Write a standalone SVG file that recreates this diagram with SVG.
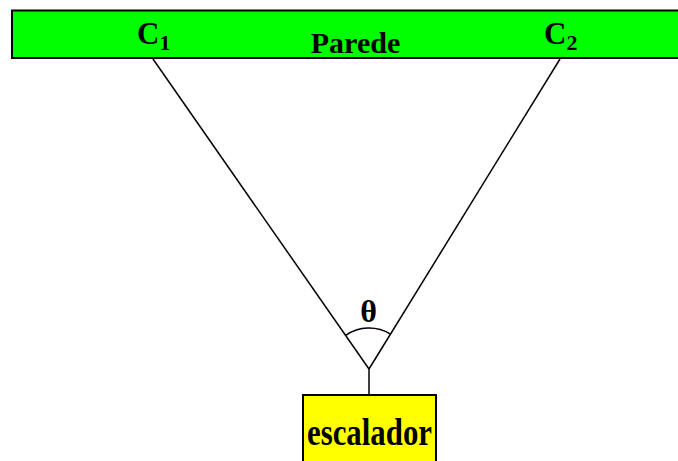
<svg xmlns="http://www.w3.org/2000/svg" width="678" height="461" viewBox="0 0 678 461">
<style>
.t{font-family:"Liberation Serif","Times New Roman",serif;font-weight:bold;fill:#000}
.ln{stroke:#000;stroke-width:1.5;fill:none}
</style>
<rect width="678" height="461" fill="#fff"/>
<g id="parede">
<rect x="12" y="10.5" width="680" height="47.5" fill="#00ff00" stroke="#000" stroke-width="2"/>
<text class="t" x="355.5" y="52.5" font-size="30" text-anchor="middle">Parede</text>
</g>
<g id="c1">
<text class="t" x="137" y="43.5" font-size="31">C<tspan font-size="22" dy="6.5">1</tspan></text>
</g>
<g id="c2">
<text class="t" x="544" y="43.5" font-size="31">C<tspan font-size="22" dy="6.5">2</tspan></text>
</g>
<g id="connectors">
<line class="ln" x1="153" y1="59" x2="369" y2="369"/>
<line class="ln" x1="560" y1="59" x2="369" y2="369"/>
<line class="ln" x1="369" y1="369" x2="369" y2="395"/>
<path class="ln" d="M345.6,335.4 A41,41 0 0 1 390.5,334.1"/>
</g>
<g id="theta">
<text class="t" x="368.5" y="322" font-size="32" text-anchor="middle">θ</text>
</g>
<g id="escalador">
<rect x="303" y="395" width="133" height="80" fill="#ffff00" stroke="#000" stroke-width="2"/>
<text class="t" x="369.5" y="445" font-size="31" text-anchor="middle" textLength="125" lengthAdjust="spacingAndGlyphs" transform="translate(0,445) scale(1,1.2) translate(0,-445)">escalador</text>
</g>
</svg>
